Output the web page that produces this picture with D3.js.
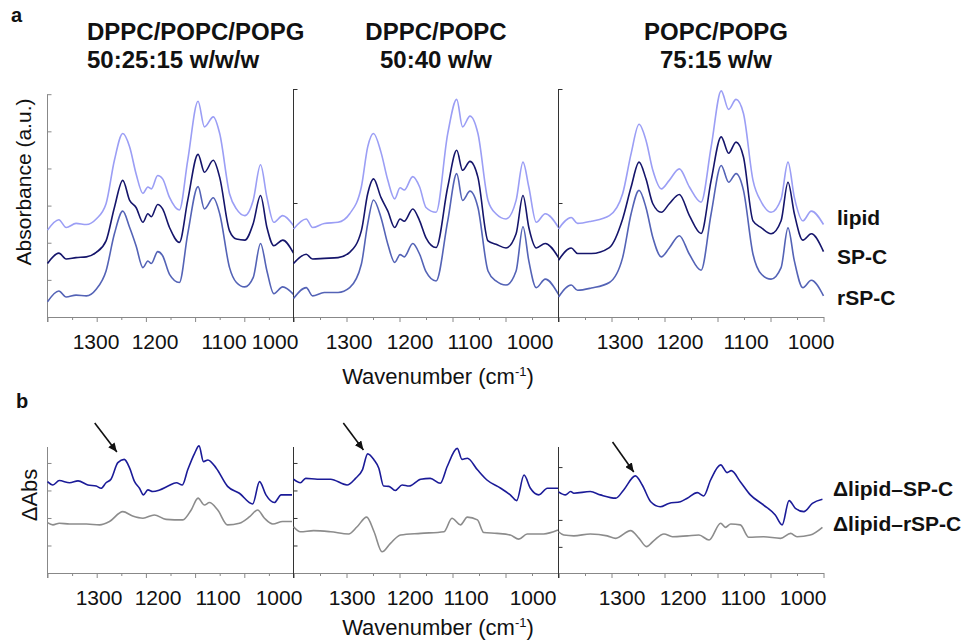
<!DOCTYPE html>
<html>
<head>
<meta charset="utf-8">
<script src="https://cdn.jsdelivr.net/npm/d3@7"></script>
<style>
  body { margin: 0; background: #fff; }
  text { font-family: "Liberation Sans", Arial, sans-serif; fill: #111; }
</style>
</head>
<body>
<div id="chart"></div>
<script>
// ---- data (absorbance in arbitrary units) ----
var titles1 = ["DPPC/POPC/POPG", "DPPC/POPC", "POPC/POPG"];
var titles2 = ["50:25:15 w/w/w", "50:40 w/w", "75:15 w/w"];
var seriesTop = ["lipid", "SP-C", "rSP-C"];
var seriesBottom = ["\u0394lipid\u2013SP-C", "\u0394lipid\u2013rSP-C"];
var tickLabels = ["1300", "1200", "1100", "1000"];

// panel a, DPPC/POPC/POPG
var wnA1 = [1400,1377,1362,1342,1321,1301,1281,1264,1247,1233,1220,1206,1196,1189,1176,1166,1152,1132,1115,1094,1081,1063,1050,1030,1016,999,982,967,954,940,922,900];
var lipidA1 = [2.34,2.62,2.41,2.52,2.49,2.64,3.05,4.22,4.94,4.58,3.86,3.33,3.5,3.45,3.81,3.72,3.22,2.88,4.22,5.81,5.12,5.39,4.94,3.32,2.91,2.73,3.14,4.1,3.22,2.55,2.73,2.46];
var spcA1 = [1.44,1.72,1.56,1.6,1.62,1.74,2.05,2.95,3.68,3.14,2.95,2.55,2.78,2.7,3.03,2.91,2.41,2.01,3.14,4.38,3.9,4.22,3.76,2.32,2.1,2.07,2.51,3.27,2.41,1.92,2.07,1.72];
var rspcA1 = [0.41,0.7,0.54,0.59,0.57,0.75,1.24,2.24,2.85,2.41,1.92,1.33,1.51,1.44,1.76,1.65,1.15,0.93,2.24,3.51,2.91,3.21,2.78,1.33,0.93,0.81,1.06,1.98,1.24,0.63,0.81,0.61];

// panel a, DPPC/POPC
var wnA2 = [1400,1376,1364,1342,1316,1294,1272,1260,1249,1235,1222,1209,1199,1191,1175,1162,1150,1131,1109,1092,1081,1067,1052,1033,1018,999,980,967,956,942,925,900];
var lipidA2 = [2.37,2.64,2.41,2.52,2.55,2.78,3.5,4.58,4.94,4.44,3.68,3.18,3.48,3.42,3.78,3.5,2.95,2.82,4.94,5.86,5.12,5.41,4.94,3.14,2.78,2.64,3.14,4.17,3.5,2.55,2.78,2.41];
var spcA2 = [1.44,1.69,1.56,1.58,1.6,1.74,2.32,3.32,3.72,3.22,2.85,2.41,2.64,2.58,2.91,2.59,2.13,1.87,3.5,4.49,3.95,4.19,3.76,2.05,1.96,1.86,2.24,3.27,2.41,1.86,1.98,1.6];
var rspcA2 = [0.5,0.79,0.57,0.66,0.66,0.79,1.42,2.51,3.15,2.68,1.96,1.47,1.68,1.62,1.98,1.69,1.22,0.97,2.59,3.86,3.14,3.39,2.95,1.24,0.97,0.86,1.24,2.43,1.51,0.79,1.02,0.61];

// panel a, POPC/POPG
var wnA3 = [1400,1376,1364,1338,1304,1279,1263,1248,1235,1222,1206,1191,1172,1153,1131,1112,1093,1079,1065,1051,1033,1017,999,980,967,955,939,923,900];
var lipidA3 = [2.37,2.68,2.52,2.58,2.73,3.32,4.4,5.19,4.76,3.95,3.45,3.68,3.99,3.5,3.09,4.58,6.09,5.59,5.86,5.48,3.68,3.09,2.82,3.18,4.17,3.22,2.59,2.85,2.49];
var spcA3 = [1.53,1.86,1.71,1.71,1.87,2.64,3.5,4.17,3.72,3.05,2.82,3.05,3.3,2.73,2.25,3.68,4.85,4.41,4.71,4.31,2.59,2.4,2.24,2.59,3.63,2.78,2.07,2.24,1.76];
var rspcA3 = [0.54,0.86,0.72,0.78,0.93,1.6,2.78,3.41,2.95,2.14,1.62,1.86,2.19,1.69,1.26,2.78,4.08,3.63,3.86,3.41,1.69,1.15,1.02,1.33,2.4,1.51,0.79,0.99,0.57];

// panel b, difference spectra
var wnB1s = [1400,1389,1376,1355,1338,1318,1301,1291,1281,1271,1257,1244,1233,1223,1213,1205,1196,1186,1172,1155,1138,1126,1115,1101,1092,1083,1074,1057,1034,1010,983,969,956,939,925,903];
var dSpcB1 = [3.32,3.2,3.36,3.28,3.35,3.2,3.16,3.08,3.28,3.41,4.01,4.13,3.81,3.32,3.08,2.84,3.02,2.96,3.02,3.16,3.28,3.2,3.75,4.35,4.62,4.05,4.11,3.81,3.15,2.9,2.51,3.32,2.84,2.56,2.84,2.84];
var wnB1r = [1400,1389,1376,1355,1321,1294,1274,1247,1227,1206,1183,1159,1125,1108,1094,1081,1071,1054,1034,1010,989,973,959,942,922,903];
var dRspcB1 = [1.83,1.75,1.81,1.78,1.78,1.75,1.87,2.23,2.07,1.99,2.11,1.95,1.93,2.29,2.72,2.47,2.56,2.29,1.75,1.81,2.05,2.29,1.99,1.78,1.87,1.87];

var wnB2s = [1400,1387,1377,1355,1330,1299,1283,1270,1260,1248,1239,1230,1220,1208,1195,1182,1160,1142,1123,1110,1091,1082,1072,1053,1035,1009,991,979,965,953,937,921,901];
var dSpcB2 = [3.41,3.28,3.44,3.41,3.41,3.2,3.44,3.75,4.33,4.11,3.81,3.16,3.15,3.0,3.2,3.16,3.41,3.44,3.26,3.87,4.53,4.13,4.17,3.75,3.38,3.08,2.84,2.63,3.56,3.08,2.84,3.08,3.08];
var wnB2r = [1400,1387,1362,1330,1296,1280,1262,1248,1233,1217,1198,1160,1116,1101,1085,1072,1053,1041,1016,991,975,959,928,901];
var dRspcB2 = [1.68,1.5,1.54,1.5,1.42,1.68,2.03,1.5,0.77,1.08,1.38,1.44,1.5,1.99,1.75,2.03,1.93,1.47,1.44,1.38,1.23,1.42,1.42,1.56];

var wnB3s = [1400,1387,1377,1371,1340,1321,1292,1277,1255,1242,1226,1208,1192,1170,1157,1138,1126,1113,1094,1082,1074,1057,1038,1013,991,978,965,953,937,921,902];
var dSpcB3 = [2.95,2.84,2.96,2.9,2.96,2.84,2.72,3.02,3.53,3.2,2.59,2.41,2.53,2.59,2.72,2.92,2.8,3.38,3.93,3.65,3.72,3.32,2.84,2.47,2.11,1.75,2.63,2.35,2.23,2.53,2.68];
var wnB3r = [1400,1390,1371,1340,1308,1292,1264,1248,1234,1220,1201,1185,1157,1135,1116,1094,1085,1075,1057,1041,1013,981,962,950,925,902];
var dRspcB3 = [1.5,1.38,1.35,1.42,1.35,1.26,1.54,1.26,0.96,1.18,1.42,1.32,1.35,1.38,1.2,1.81,1.66,1.78,1.75,1.3,1.32,1.26,1.44,1.32,1.38,1.66];

// arrows in panel b: [wavenumber, value] of tail and tip
var arrowTail = [[1304, 5.45], [1306, 5.45], [1298, 4.76]];
var arrowTip = [[1259, 4.4], [1268, 4.47], [1258, 3.67]];

// ---- layout ----
var svgWidth = 969, svgHeight = 642;
var panelX = [[47.5, 293.5], [293.5, 558.5], [558.5, 823.5]];
var topY = { base: 317, top: 89 };
var botY = { base: 573, top: 447 };
var topLabelX = [[96, 155, 224, 275], [349, 410, 470, 530], [620, 680, 746, 811]];
var botLabelX = [[99, 158, 218, 279], [352, 410, 466, 533], [622, 683, 743, 803]];
var colorsTop = ["#9b9ef5", "#15156b", "#5463b6"];
var colorsBottom = ["#1b1b98", "#8c8c8c"];

var svg = d3.select("#chart")
    .append("svg")
    .attr("width", svgWidth)
    .attr("height", svgHeight);

svg.append("defs").append("marker")
    .attr("id", "head")
    .attr("markerUnits", "userSpaceOnUse")
    .attr("markerWidth", 10).attr("markerHeight", 8)
    .attr("refX", 9).attr("refY", 4)
    .attr("orient", "auto")
    .append("path")
    .attr("d", "M0,0 L9,4 L0,8 z")
    .attr("fill", "#111");

var topData = [
    { wn: wnA1, ys: [lipidA1, spcA1, rspcA1] },
    { wn: wnA2, ys: [lipidA2, spcA2, rspcA2] },
    { wn: wnA3, ys: [lipidA3, spcA3, rspcA3] }
];
var botData = [
    { wn: [wnB1s, wnB1r], ys: [dSpcB1, dRspcB1] },
    { wn: [wnB2s, wnB2r], ys: [dSpcB2, dRspcB2] },
    { wn: [wnB3s, wnB3r], ys: [dSpcB3, dRspcB3] }
];

var yTop = d3.scaleLinear().domain([0, 6.14]).range([topY.base, topY.top]);
var yBot = d3.scaleLinear().domain([0, 4.58]).range([botY.base, botY.top]);
var majorTicks = [1400, 1300, 1200, 1100, 1000, 900];
var minorTicks = [1350, 1250, 1150, 1050, 950];

function drawAxes(g, x, y, yMax, yTicks, dark) {
    var axisColor = dark ? "#333" : "#888";
    // bottom axis: major and minor ticks, labels placed separately
    var gx = g.append("g").attr("transform", `translate(0, ${y(0)})`)
        .call(d3.axisBottom(x).tickValues(majorTicks).tickFormat("").tickSizeInner(5).tickSizeOuter(0));
    gx.append("g").call(d3.axisBottom(x).tickValues(minorTicks).tickFormat("").tickSizeInner(3).tickSizeOuter(0))
        .select(".domain").remove();
    gx.selectAll("path, line").attr("stroke", "#888");
    // left axis with inward ticks
    var ys = y.copy().domain([0, yMax]).range([y(0), y(yMax)]);
    var gy = g.append("g").attr("transform", `translate(${x(1400)}, 0)`)
        .call(d3.axisRight(ys).tickValues(yTicks).tickFormat("").tickSizeInner(4).tickSizeOuter(0));
    gy.selectAll("path, line").attr("stroke", axisColor);
    gy.select(".domain").attr("d", `M0,${y(0) + 5}V${y(yMax)}`);
}

// ---- panel a ----
topData.forEach(function (p, i) {
    var x = d3.scaleLinear().domain([1400, 900]).range(panelX[i]);
    var g = svg.append("g");
    drawAxes(g, x, yTop, i === 0 ? 6 : 6.14, i === 0 ? [1, 2, 3, 4, 5, 6] : [3.07, 6.14], i > 0);
    var line = d3.line()
        .x((d, k) => x(p.wn[k]))
        .y(d => yTop(d))
        .curve(d3.curveMonotoneX);
    p.ys.forEach(function (vals, s) {
        g.append("path")
            .datum(vals)
            .attr("d", line)
            .attr("fill", "none")
            .attr("stroke", colorsTop[s])
            .attr("stroke-width", 1.6);
    });
    g.selectAll(".tl")
        .data(tickLabels)
        .enter()
        .append("text")
        .attr("x", (d, k) => topLabelX[i][k])
        .attr("y", 349)
        .style("text-anchor", "middle")
        .style("font-size", "21px")
        .text(d => d);
});

// ---- panel b ----
botData.forEach(function (p, i) {
    var x = d3.scaleLinear().domain([1400, 900]).range(panelX[i]);
    var g = svg.append("g");
    drawAxes(g, x, yBot, 4.58, i === 2 ? [0.95, 1.93, 3.85] : [1, 2, 3, 4], i > 0);
    p.ys.forEach(function (vals, s) {
        var line = d3.line()
            .x((d, k) => x(p.wn[s][k]))
            .y(d => yBot(d))
            .curve(d3.curveMonotoneX);
        g.append("path")
            .datum(vals)
            .attr("d", line)
            .attr("fill", "none")
            .attr("stroke", colorsBottom[s])
            .attr("stroke-width", 1.6);
    });
    g.append("line")
        .attr("x1", x(arrowTail[i][0])).attr("y1", yBot(arrowTail[i][1]))
        .attr("x2", x(arrowTip[i][0])).attr("y2", yBot(arrowTip[i][1]))
        .attr("stroke", "#111")
        .attr("stroke-width", 1.6)
        .attr("marker-end", "url(#head)");
    g.selectAll(".tl")
        .data(tickLabels)
        .enter()
        .append("text")
        .attr("x", (d, k) => botLabelX[i][k])
        .attr("y", 605)
        .style("text-anchor", "middle")
        .style("font-size", "21px")
        .text(d => d);
});

// ---- titles ----
var titleX = [87, 436, 716];
titles1.forEach(function (t, i) {
    var anchor = i === 0 ? "start" : "middle";
    svg.append("text").attr("x", titleX[i]).attr("y", 40)
        .style("text-anchor", anchor).style("font-size", "24px").style("font-weight", "bold")
        .text(t);
    svg.append("text").attr("x", titleX[i]).attr("y", 68)
        .style("text-anchor", anchor).style("font-size", "24px").style("font-weight", "bold")
        .text(titles2[i]);
});

// series labels on the right
var topLegendY = [225, 264, 305];
seriesTop.forEach(function (s, i) {
    svg.append("text").attr("x", 837).attr("y", topLegendY[i])
        .style("font-size", "21px").style("font-weight", "bold").text(s);
});
var botLegendY = [496, 531];
seriesBottom.forEach(function (s, i) {
    svg.append("text").attr("x", 833).attr("y", botLegendY[i])
        .style("font-size", "21px").style("font-weight", "bold").text(s);
});

// panel letters
svg.append("text").attr("x", 11).attr("y", 22)
    .style("font-size", "20px").style("font-weight", "bold").text("a");
svg.append("text").attr("x", 16).attr("y", 408)
    .style("font-size", "20px").style("font-weight", "bold").text("b");

// axis titles
[384, 635].forEach(function (yy) {
    var t = svg.append("text").attr("x", 438).attr("y", yy)
        .style("text-anchor", "middle").style("font-size", "22px");
    t.append("tspan").text("Wavenumber (cm");
    t.append("tspan").attr("dy", -8).style("font-size", "13px").text("-1");
    t.append("tspan").attr("dy", 8).text(")");
});
svg.append("text")
    .attr("transform", "translate(31, 182) rotate(-90)")
    .style("text-anchor", "middle").style("font-size", "21px")
    .text("Absorbance (a.u.)");
svg.append("text")
    .attr("transform", "translate(37, 495) rotate(-90)")
    .style("text-anchor", "middle").style("font-size", "22px")
    .text("\u0394Abs");
</script>
</body>
</html>
